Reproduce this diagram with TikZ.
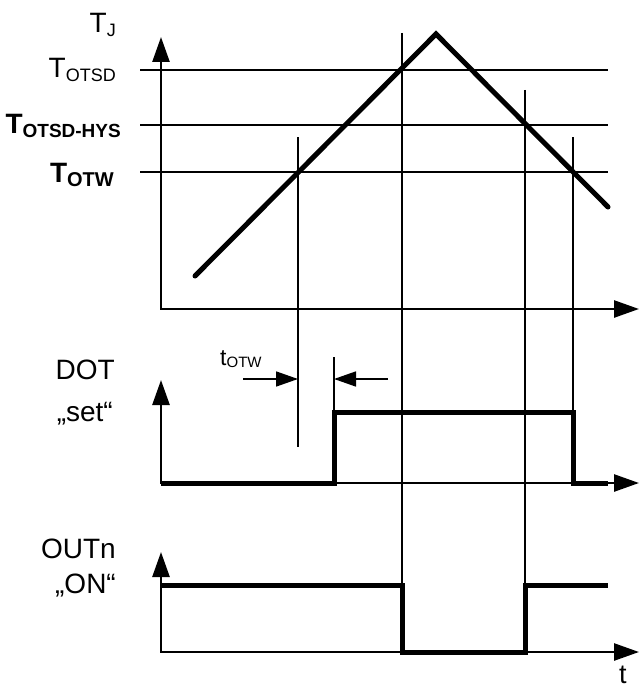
\documentclass[tikz,border=0pt]{standalone}
\usepackage{fontspec}
\setmainfont{Liberation Sans}
\usetikzlibrary{arrows.meta}
\newcommand{\lowtxt}[2][18]{\raisebox{-4pt}{\fontsize{#1}{#1}\selectfont #2}}

\begin{document}
\begin{tikzpicture}
  [x=1pt,y=-1pt,
   axis/.style={line width=2.6pt,
    {Triangle[length=25pt,width=17pt]}-{Triangle[length=25pt,width=17pt]}},
   thin/.style={line width=1.6pt},
   signal/.style={line width=5pt},
   ramp/.style={line width=5pt,line cap=round},
   dim/.style={line width=1.6pt,-{Triangle[length=22pt,width=15pt]}},
   lbl/.style={anchor=base east,inner sep=0pt,font=\fontsize{28}{30}\selectfont}]
  \def \xo {161}
  \def \xend {639}
  \def \xlev {608}

  \useasboundingbox (0,0) rectangle (639,690);

  % axes of the three plots
  \foreach \name/\ytop/\ybot in {temp/37/309, dot/380/483, out/552/652}
  {
    \coordinate (\name top) at (\xo,\ytop);
    \coordinate (\name0) at (\xo,\ybot);
    \coordinate (\name end) at (\xend,\ybot);
    \draw[axis] (\name top) -- (\name0) -- (\name end);
  }

  % temperature levels
  \foreach \name/\y in {otsd/70, hys/125, otw/172}
  {
    \coordinate (\name a) at (140,\y);
    \coordinate (\name b) at (\xlev,\y);
    \draw[thin] (\name a) -- (\name b);
  }

  % junction temperature
  \coordinate (rise) at (195,276);
  \coordinate (peak) at (436,34);
  \coordinate (fall) at (\xlev,207);
  \draw[ramp] (rise) -- (peak) -- (fall);

  % time markers
  \foreach \name/\x/\ya/\yb in {m1/298/137/447, m2/334/357/412, m3/402/33/585,
    m4/525/90/585, m5/573/137/412}
  {
    \coordinate (\name a) at (\x,\ya);
    \coordinate (\name b) at (\x,\yb);
    \draw[thin] (\name a) -- (\name b);
  }

  % output signals
  \draw[signal] (dot0) -- (m2b |- dot0) -- (m2b) -- (m5b) -- (m5b |- dot0) -- (\xlev,483);
  \draw[signal] (\xo,585) -- (m3b) -- (m3b |- out0) -- (m4b |- out0) -- (m4b) -- (\xlev,585);

  % delay t_OTW
  \coordinate (d1) at (243,379);
  \coordinate (d2) at (388,379);
  \draw[dim] (d1) -- (m1b |- d1);
  \draw[dim] (d2) -- (m2a |- d2);

  \node[lbl] (tj) at (116,33) {T\lowtxt{J}};
  \node[lbl] (totsd) at (116,78) {T\lowtxt{OTSD}};
  \node[lbl] (thys) at (121,133) {\bfseries T\lowtxt[19]{OTSD-HYS}};
  \node[lbl] (totw) at (114,182) {\bfseries T\lowtxt[20]{OTW}};
  \node[lbl] (dot) at (115,379) {DOT};
  \node[lbl] (set) at (113,421) {„set“};
  \node[lbl] (outn) at (116,558) {OUTn};
  \node[lbl] (on) at (116,593) {„ON“};
  \node[lbl,anchor=base west,font=\fontsize{23}{25}\selectfont] (tw) at (220,365)
    {t\raisebox{-2pt}{\fontsize{15}{15}\selectfont OTW}};
  \node[lbl,anchor=base west,font=\fontsize{27}{29}\selectfont] (t) at (619,683) {t};
\end{tikzpicture}
\end{document}
